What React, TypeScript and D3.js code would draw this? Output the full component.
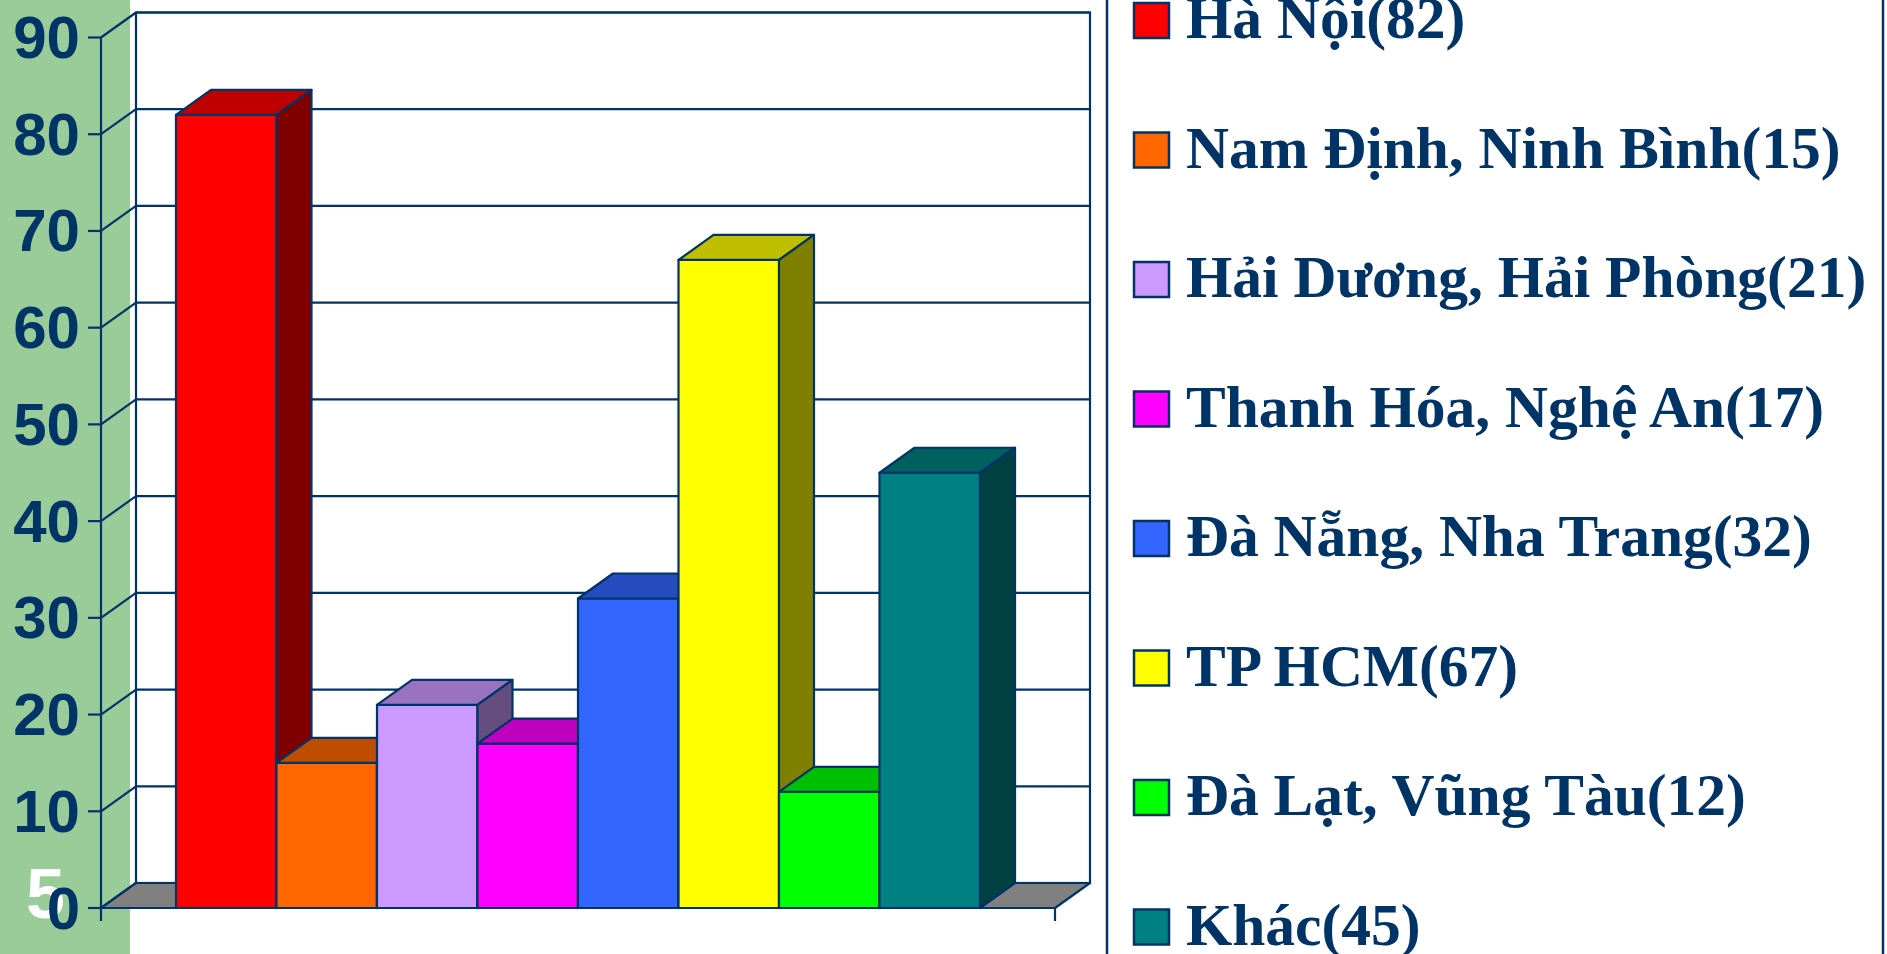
import React from "react";
import * as d3 from "d3";

const seriesNames = [
  "Hà Nội(82)",
  "Nam Định, Ninh Bình(15)",
  "Hải Dương, Hải Phòng(21)",
  "Thanh Hóa, Nghệ An(17)",
  "Đà Nẵng, Nha Trang(32)",
  "TP HCM(67)",
  "Đà Lạt, Vũng Tàu(12)",
  "Khác(45)",
];
const seriesValues = [82, 15, 21, 17, 32, 67, 12, 45];
const seriesColors = ["#FF0000", "#FF6600", "#CC99FF", "#FF00FF", "#3366FF", "#FFFF00", "#00FF00", "#008080"];
const yTicks = [0, 10, 20, 30, 40, 50, 60, 70, 80, 90];

const NAVY = "#003366";

function shade(c: string, k: number) {
  const col = d3.rgb(c);
  return d3.rgb(col.r * k, col.g * k, col.b * k).formatHex();
}

export default function App() {
  const W = 1887, H = 954;
  const left = 101, right = 1055;
  const dx = 35, dy = -25;
  const y = d3.scaleLinear().domain([0, 90]).range([908, 37.5]);
  const x = d3.scaleBand<string>().domain(seriesNames).range([left, right]).paddingInner(0).paddingOuter(0.746);
  const bw = x.bandwidth();
  const y0 = y(0);
  const yTop = y(90);
  const sw = 2.2;

  const pts = (p: [number, number][]) => p.map((q) => q.join(",")).join(" ");

  const legendStep = 129.5;

  return (
    <svg width={W} height={H} style={{ position: "absolute", left: 0, top: 0, display: "block" }}>
      <rect x={0} y={0} width={W} height={H} fill="#ffffff" />
      <rect x={0} y={0} width={130} height={H} fill="#99CC99" />

      {/* back wall */}
      <rect x={left + dx} y={yTop + dy} width={right - left} height={y0 - yTop} fill="none" stroke={NAVY} strokeWidth={sw} />
      {/* gridlines */}
      {yTicks.map((t) => (
        <g key={"g" + t}>
          <line x1={left + dx} x2={right + dx} y1={y(t) + dy} y2={y(t) + dy} stroke={NAVY} strokeWidth={sw} />
          <line x1={left} x2={left + dx} y1={y(t)} y2={y(t) + dy} stroke={NAVY} strokeWidth={sw} />
        </g>
      ))}
      {/* floor */}
      <polygon
        points={pts([[left, y0], [right, y0], [right + dx, y0 + dy], [left + dx, y0 + dy]])}
        fill="#808080"
        stroke={NAVY}
        strokeWidth={sw}
        strokeLinejoin="round"
      />
      {/* axes */}
      <line x1={left} x2={left} y1={yTop} y2={y0 + 13} stroke={NAVY} strokeWidth={sw} />
      {yTicks.map((t) => (
        <line key={"t" + t} x1={left - 13} x2={left} y1={y(t)} y2={y(t)} stroke={NAVY} strokeWidth={sw} />
      ))}
      <line x1={left} x2={right} y1={y0} y2={y0} stroke={NAVY} strokeWidth={sw} />
      <line x1={right} x2={right} y1={y0} y2={y0 + 13} stroke={NAVY} strokeWidth={sw} />

      {/* slide number */}
      <text x={26} y={918} fill="#ffffff" fontFamily="Liberation Sans, Arial, sans-serif" fontWeight="bold" fontSize={70}>
        5
      </text>

      {/* y labels */}
      {yTicks.map((t) => (
        <text
          key={"l" + t}
          x={80}
          y={y(t)}
          textAnchor="end"
          dominantBaseline="central"
          fill={NAVY}
          fontFamily="Liberation Sans, Arial, sans-serif"
          fontWeight="bold"
          fontSize={60}
        >
          {t}
        </text>
      ))}

      {/* bars */}
      {seriesNames.map((n, i) => {
        const bx = x(n) as number;
        const yt = y(seriesValues[i]);
        const c = seriesColors[i];
        return (
          <g key={"b" + i} stroke={NAVY} strokeWidth={sw} strokeLinejoin="round">
            <rect x={bx} y={yt} width={bw} height={y0 - yt} fill={c} />
            <polygon points={pts([[bx, yt], [bx + dx, yt + dy], [bx + bw + dx, yt + dy], [bx + bw, yt]])} fill={shade(c, 0.75)} />
            <polygon points={pts([[bx + bw, yt], [bx + bw + dx, yt + dy], [bx + bw + dx, y0 + dy], [bx + bw, y0]])} fill={shade(c, 0.5)} />
          </g>
        );
      })}

      {/* legend */}
      <rect x={1107} y={-10} width={776} height={H + 20} fill="#ffffff" stroke={NAVY} strokeWidth={2.5} />
      {seriesNames.map((n, i) => (
        <g key={"lg" + i}>
          <rect x={1134} y={3 + i * legendStep} width={35} height={35} fill={seriesColors[i]} stroke={NAVY} strokeWidth={2.5} />
          <text
            x={1186}
            y={38 + i * legendStep}
            fill={NAVY}
            fontFamily="Liberation Serif, Times New Roman, serif"
            fontWeight="bold"
            fontSize={59.5}
          >
            {n}
          </text>
        </g>
      ))}
    </svg>
  );
}
